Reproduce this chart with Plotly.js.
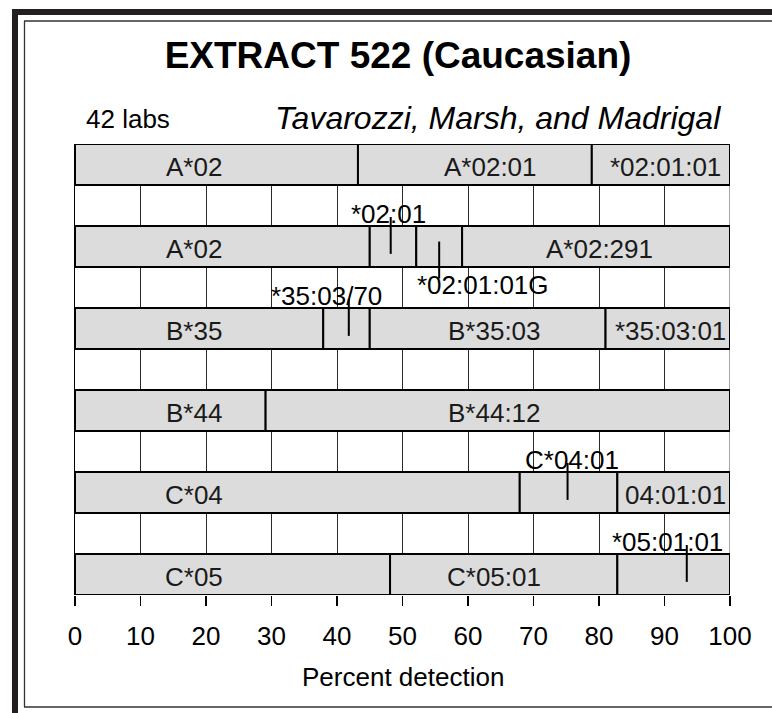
<!DOCTYPE html>
<html>
<head>
<meta charset="utf-8">
<script src="https://cdn.plot.ly/plotly-3.0.1.min.js"></script>
<style>
  html, body { margin: 0; padding: 0; background: #ffffff; }
  #chart { width: 772px; height: 713px; }
</style>
</head>
<body>
<div id="chart"></div>
<script>
// ---------------- DATA ----------------
// Percent of the 42 labs reporting each typing resolution, per row (left to right)
const rowIndex = [0, 1, 2, 3, 4, 5];

const segA02a = [43.2, 35.7, 21.1];
const segA02b = [45.0, 7.1, 7.0, 40.9];
const segB35  = [37.9, 7.1, 36.0, 19.0];
const segB44  = [29.1, 70.9];
const segC04  = [67.9, 14.9, 17.2];
const segC05  = [48.1, 34.7, 17.2];

const labA02a = ['A*02', 'A*02:01', '*02:01:01'];
const labA02b = ['A*02', '', '', 'A*02:291'];
const labB35  = ['B*35', '', 'B*35:03', '*35:03:01'];
const labB44  = ['B*44', 'B*44:12'];
const labC04  = ['C*04', '', '04:01:01'];
const labC05  = ['C*05', 'C*05:01', ''];

// callouts for narrow segments
const calloutText = ['*02:01', '*02:01:01G', '*35:03/70', 'C*04:01', '*05:01:01'];
const calloutRow  = [1, 1, 2, 4, 5];
const calloutX    = [48.2, 55.6, 41.8, 75.2, 93.4];
const calloutSide = ['above', 'below', 'above', 'above', 'above'];

const xTicks = [0, 10, 20, 30, 40, 50, 60, 70, 80, 90, 100];

// ---------------- LAYOUT HELPERS (positions / styles) ----------------
const labelPosA02a = [18.2, 63.5, 90.1];
const labelPosA02b = [18.2, 0, 0, 80.0];
const labelPosB35  = [18.2, 0, 64.1, 90.9];
const labelPosB44  = [18.2, 64.1];
const labelPosC04  = [18.2, 0, 91.7];
const labelPosC05  = [18.2, 64.0, 0];
const calloutLabelPos = [47.8, 62.3, 38.4, 75.9, 90.4];

const FONT = 'Liberation Sans, Arial, Helvetica, sans-serif';
const W = 772, H = 713;
const M = { l: 75, r: 42, t: 144, b: 118 };
const PW = W - M.l - M.r, PH = H - M.t - M.b;
const px2x = p => (p - M.l) / PW;
const py2y = p => (H - M.b - p) / PH;

const rowsSeg = [segA02a, segA02b, segB35, segB44, segC04, segC05];
const rowsLab = [labA02a, labA02b, labB35, labB44, labC04, labC05];
const rowsPos = [labelPosA02a, labelPosA02b, labelPosB35, labelPosB44, labelPosC04, labelPosC05];

const barY = [], barX = [], barBase = [];
const annotations = [];
rowIndex.forEach((r, i) => {
  let start = 0;
  rowsSeg[i].forEach((w, j) => {
    barY.push(r); barX.push(w); barBase.push(start);
    const lab = rowsLab[i][j];
    if (lab) {
      annotations.push({
        x: rowsPos[i][j], y: r + 0.03, xref: 'x', yref: 'y', text: lab,
        showarrow: false, xanchor: 'center', yanchor: 'middle',
        font: { family: FONT, size: 26, color: '#1a1a1a' }
      });
    }
    start += w;
  });
});

const shapes = [];
calloutText.forEach((t, k) => {
  const r = calloutRow[k];
  const above = calloutSide[k] === 'above';
  shapes.push({
    type: 'line', xref: 'x', yref: 'y', layer: 'above',
    x0: calloutX[k], x1: calloutX[k],
    y0: above ? r - 0.36 : r - 0.06,
    y1: above ? r + 0.09 : r + 0.39,
    line: { color: '#000', width: 2 }
  });
  annotations.push({
    x: calloutLabelPos[k], y: above ? r - 0.40 : r + 0.47, xref: 'x', yref: 'y',
    text: t, showarrow: false, xanchor: 'center', yanchor: 'middle',
    font: { family: FONT, size: 26, color: '#000' }
  });
});

// right plot edge (gray) below bars
shapes.push({
  type: 'line', xref: 'x', yref: 'paper', layer: 'below',
  x0: 100, x1: 100, y0: 0, y1: 1, line: { color: '#8a8a8a', width: 1.5 }
});

// frame around figure
const dark = '#231f20';
shapes.push({ type: 'rect', xref: 'paper', yref: 'paper', layer: 'above',
  x0: px2x(12), x1: px2x(772), y0: py2y(15), y1: py2y(9),
  fillcolor: dark, line: { width: 0 } });
shapes.push({ type: 'rect', xref: 'paper', yref: 'paper', layer: 'above',
  x0: px2x(12), x1: px2x(18), y0: py2y(713), y1: py2y(9),
  fillcolor: dark, line: { width: 0 } });
shapes.push({ type: 'line', xref: 'paper', yref: 'paper', layer: 'above',
  x0: px2x(24), x1: px2x(772), y0: py2y(21), y1: py2y(21),
  line: { color: '#333', width: 1.3 } });
shapes.push({ type: 'line', xref: 'paper', yref: 'paper', layer: 'above',
  x0: px2x(24.5), x1: px2x(24.5), y0: py2y(21), y1: py2y(707),
  line: { color: '#333', width: 1.3 } });
shapes.push({ type: 'line', xref: 'paper', yref: 'paper', layer: 'above',
  x0: px2x(24), x1: px2x(772), y0: py2y(707), y1: py2y(707),
  line: { color: '#333', width: 1.3 } });

// header texts
annotations.push({
  xref: 'paper', yref: 'paper', x: px2x(84), y: py2y(119),
  xanchor: 'left', yanchor: 'middle', showarrow: false, text: '42 labs',
  font: { family: FONT, size: 26, color: '#000' }
});
annotations.push({
  xref: 'paper', yref: 'paper', x: px2x(723), y: py2y(118),
  xanchor: 'right', yanchor: 'middle', showarrow: false,
  text: '<i>Tavarozzi, Marsh, and Madrigal</i>',
  font: { family: FONT, size: 32, color: '#000' }
});
annotations.push({
  xref: 'paper', yref: 'paper', x: px2x(403), y: py2y(677),
  xanchor: 'center', yanchor: 'middle', showarrow: false,
  text: 'Percent detection',
  font: { family: FONT, size: 26, color: '#000' }
});

const trace = {
  type: 'bar', orientation: 'h',
  y: barY, x: barX, base: barBase,
  width: 0.5,
  marker: { color: '#dcdcdc', line: { color: '#000', width: 2 } },
  hoverinfo: 'skip', cliponaxis: false
};

const layout = {
  width: W, height: H,
  margin: M,
  paper_bgcolor: '#ffffff', plot_bgcolor: '#ffffff',
  showlegend: false,
  barmode: 'overlay',
  title: {
    text: 'EXTRACT 522 (Caucasian)',
    font: { family: FONT, size: 37, weight: 'bold', color: '#000' },
    xref: 'container', x: 398 / W, xanchor: 'center',
    yref: 'container', y: 1 - 55 / H, yanchor: 'middle'
  },
  xaxis: {
    range: [0, 100], tickvals: xTicks, ticktext: xTicks.map(String),
    showgrid: true, gridcolor: '#2a2a2a', gridwidth: 1,
    zeroline: false, showline: false,
    ticks: 'outside', ticklen: 10, tickwidth: 1.3, tickcolor: '#000',
    tickfont: { family: FONT, size: 26, color: '#000' },
    ticklabelstandoff: 8,
    fixedrange: true
  },
  yaxis: {
    range: [5.25, -0.25], showticklabels: false, showgrid: false,
    zeroline: false, showline: true, linecolor: '#000', linewidth: 1.3,
    ticks: '', fixedrange: true
  },
  shapes: shapes,
  annotations: annotations
};

Plotly.newPlot('chart', [trace], layout, { displayModeBar: false, staticPlot: true });
</script>
</body>
</html>
